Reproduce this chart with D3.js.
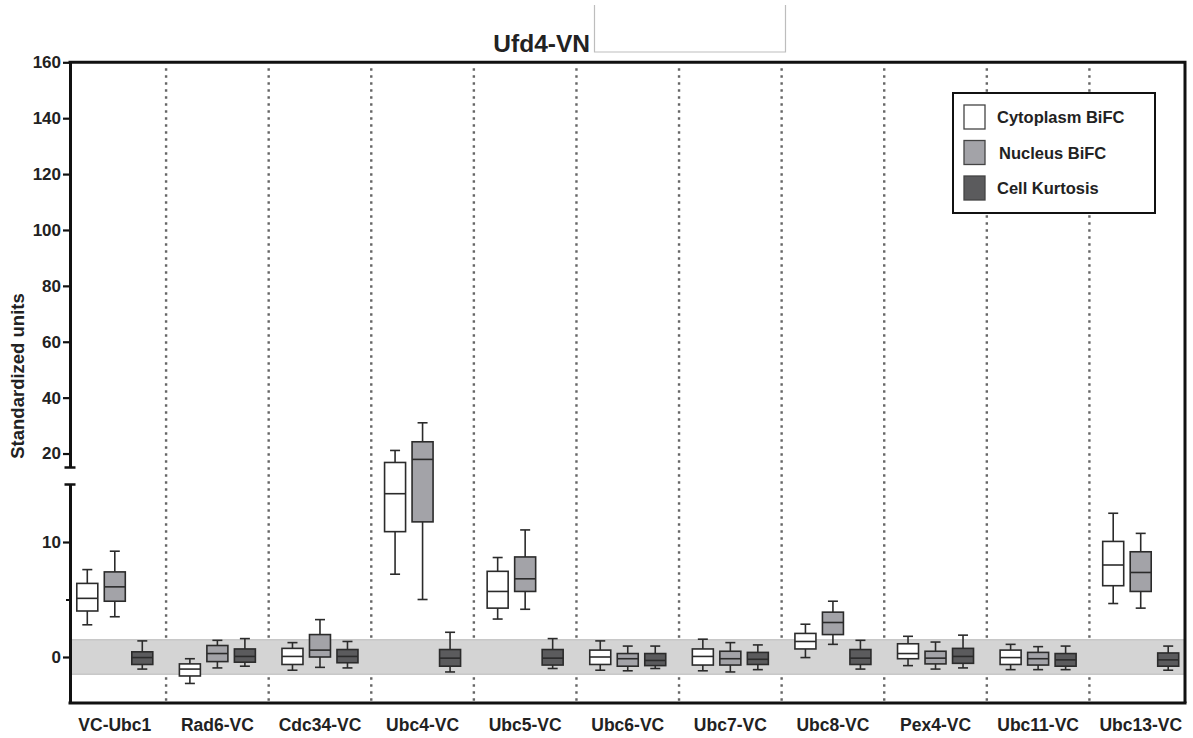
<!DOCTYPE html>
<html>
<head>
<meta charset="utf-8">
<script src="https://cdn.jsdelivr.net/npm/d3@7/dist/d3.min.js"></script>
<style>
  html, body { margin: 0; padding: 0; background: #fff; }
  svg { display: block; font-family: "Liberation Sans", Arial, sans-serif; }
  text { font-weight: bold; fill: #222; }
</style>
</head>
<body>
<svg id="chart" width="1193" height="738"></svg>
<script>
// Categories (E2 constructs) and the three measured series
const categories = ["VC-Ubc1", "Rad6-VC", "Cdc34-VC", "Ubc4-VC", "Ubc5-VC", "Ubc6-VC",
                    "Ubc7-VC", "Ubc8-VC", "Pex4-VC", "Ubc11-VC", "Ubc13-VC"];
const seriesNames = ["Cytoplasm BiFC", "Nucleus BiFC", "Cell Kurtosis"];

// Box statistics per category: [whisker low, Q1, median, Q3, whisker high]
const cytoplasm = [
  [2.8, 4.0, 5.1, 6.4, 7.6],
  [-2.3, -1.65, -1.05, -0.6, -0.15],
  [-1.15, -0.65, 0.05, 0.75, 1.25],
  [7.2, 10.9, 14.2, 16.8, 21.1],
  [3.3, 4.25, 5.7, 7.45, 8.65],
  [-1.15, -0.65, 0.0, 0.6, 1.4],
  [-1.2, -0.7, 0.05, 0.7, 1.55],
  [-0.05, 0.7, 1.35, 2.05, 2.85],
  [-0.75, -0.15, 0.3, 1.15, 1.8],
  [-1.1, -0.65, -0.05, 0.6, 1.1],
  [4.65, 6.2, 8.0, 10.05, 12.5]
];
const nucleus = [
  [3.5, 4.85, 6.1, 7.4, 9.2],
  [-0.95, -0.4, 0.3, 1.0, 1.45],
  [-0.9, 0.0, 0.6, 1.95, 3.25],
  [5.0, 11.75, 17.9, 24.2, 31.0],
  [4.15, 5.7, 6.8, 8.7, 11.05],
  [-1.2, -0.8, -0.15, 0.3, 0.95],
  [-1.3, -0.7, -0.15, 0.5, 1.25],
  [1.1, 1.95, 3.0, 3.9, 4.85],
  [-1.05, -0.6, -0.1, 0.5, 1.3],
  [-1.1, -0.7, -0.15, 0.4, 0.9],
  [4.25, 5.7, 7.35, 9.15, 10.75]
];
const kurtosis = [
  [-1.05, -0.65, -0.05, 0.45, 1.4],
  [-0.8, -0.45, 0.05, 0.7, 1.6],
  [-0.95, -0.5, 0.05, 0.65, 1.35],
  [-1.3, -0.8, -0.1, 0.65, 2.15],
  [-1.0, -0.7, -0.1, 0.65, 1.6],
  [-1.0, -0.75, -0.3, 0.3, 0.95],
  [-1.1, -0.65, -0.2, 0.4, 1.05],
  [-1.05, -0.65, -0.1, 0.65, 1.45],
  [-0.95, -0.55, 0.05, 0.75, 1.9],
  [-1.1, -0.8, -0.25, 0.3, 0.95],
  [-1.15, -0.8, -0.25, 0.35, 0.95]
];
const seriesFill = ["#ffffff", "#a3a3a8", "#5b5b5d"];

// Axis ticks for the two segments of the broken y axis
const upperTicks = [20, 40, 60, 80, 100, 120, 140, 160];
const lowerTicks = [0, 10];
const lowerMinorTicks = [5];
// Shaded reference range around zero
const refBand = [-1.5, 1.5];

const titleText = "Ufd4-VN";
const yTitle = "Standardized units";

// ---- layout ----
const svg = d3.select("#chart");
const axisLeftX = 70, axisRightX = 1185, plotTop = 62.3, plotBottom = 703;

const x = d3.scaleBand().domain(categories).range([63.5, 1192]).padding(0);
const xs = d3.scalePoint().domain(seriesNames).range([-27.5, 27.5]);
const boxW = 21, capW = 10;

const yLow = d3.scaleLinear().domain([-4, 15]).range([plotBottom, 484.5]);
const yHigh = d3.scaleLinear().domain([15, 160]).range([467.5, plotTop]);
const y = v => (v <= 15 ? yLow(v) : yHigh(v));

// ---- title with empty frame ----
svg.append("text")
  .attr("x", 590).attr("y", 52)
  .attr("text-anchor", "end")
  .style("font-size", "24.5px")
  .text(titleText);
svg.append("path")
  .attr("d", "M594.5,5V52H785.5V5")
  .attr("fill", "none")
  .attr("stroke", "#bdbdbd")
  .attr("stroke-width", 1.2);

// ---- dotted group separators ----
svg.append("g").selectAll("line")
  .data(categories.slice(1))
  .join("line")
  .attr("x1", d => x(d)).attr("x2", d => x(d))
  .attr("y1", plotTop + 6).attr("y2", plotBottom)
  .attr("stroke", "#666")
  .attr("stroke-width", 2.4)
  .attr("stroke-dasharray", "2.4 4.6");

// ---- reference band ----
svg.append("rect")
  .attr("x", axisLeftX).attr("width", axisRightX - axisLeftX)
  .attr("y", y(refBand[1])).attr("height", y(refBand[0]) - y(refBand[1]))
  .attr("fill", "#d4d4d4")
  .attr("stroke", "#b9b9b9").attr("stroke-width", 1);

// ---- boxes ----
const allSeries = [cytoplasm, nucleus, kurtosis];
const boxes = [];
allSeries.forEach((arr, si) => {
  arr.forEach((s, ci) => {
    boxes.push({ cat: categories[ci], series: seriesNames[si], fill: seriesFill[si],
                 lo: s[0], q1: s[1], med: s[2], q3: s[3], hi: s[4] });
  });
});

const bg = svg.append("g").selectAll("g")
  .data(boxes)
  .join("g")
  .attr("transform", d => `translate(${x(d.cat) + x.bandwidth() / 2 + xs(d.series)},0)`);

const stroke = "#2b2b2b", sw = 1.6;
bg.append("line").attr("y1", d => y(d.hi)).attr("y2", d => y(d.q3))
  .attr("stroke", stroke).attr("stroke-width", sw);
bg.append("line").attr("y1", d => y(d.q1)).attr("y2", d => y(d.lo))
  .attr("stroke", stroke).attr("stroke-width", sw);
bg.append("line").attr("x1", -capW / 2).attr("x2", capW / 2)
  .attr("y1", d => y(d.hi)).attr("y2", d => y(d.hi))
  .attr("stroke", stroke).attr("stroke-width", sw);
bg.append("line").attr("x1", -capW / 2).attr("x2", capW / 2)
  .attr("y1", d => y(d.lo)).attr("y2", d => y(d.lo))
  .attr("stroke", stroke).attr("stroke-width", sw);
bg.append("rect")
  .attr("x", -boxW / 2).attr("width", boxW)
  .attr("y", d => y(d.q3)).attr("height", d => y(d.q1) - y(d.q3))
  .attr("fill", d => d.fill)
  .attr("stroke", stroke).attr("stroke-width", sw);
bg.append("line").attr("x1", -boxW / 2).attr("x2", boxW / 2)
  .attr("y1", d => y(d.med)).attr("y2", d => y(d.med))
  .attr("stroke", stroke).attr("stroke-width", sw);

// ---- y axis (two segments) ----
const styleAxis = g => {
  g.select(".domain").attr("stroke", "#111").attr("stroke-width", 3);
  g.selectAll(".tick line").attr("stroke", "#111").attr("stroke-width", 2.2);
  g.selectAll(".tick text").style("font-size", "17px").attr("fill", "#222");
};
svg.append("g")
  .attr("transform", `translate(${axisLeftX},0)`)
  .call(d3.axisLeft(yHigh).tickValues(upperTicks).tickSize(7).tickSizeOuter(0).tickPadding(2))
  .call(styleAxis);
svg.append("g")
  .attr("transform", `translate(${axisLeftX},0)`)
  .call(d3.axisLeft(yLow).tickValues(lowerTicks).tickSize(7).tickSizeOuter(0).tickPadding(2))
  .call(styleAxis);
svg.append("g")
  .attr("transform", `translate(${axisLeftX},0)`)
  .call(d3.axisLeft(yLow).tickValues(lowerMinorTicks).tickSize(4).tickFormat("").tickSizeOuter(0))
  .call(g => g.select(".domain").remove())
  .call(g => g.selectAll(".tick line").attr("stroke", "#111").attr("stroke-width", 2));

// break caps on each side of the gap
svg.append("g").selectAll("line")
  .data([yHigh(15), yLow(15)])
  .join("line")
  .attr("x1", axisLeftX - 5.5).attr("x2", axisLeftX + 5.5)
  .attr("y1", d => d).attr("y2", d => d)
  .attr("stroke", "#111").attr("stroke-width", 2.5);

// ---- frame: top and right edges ----
svg.append("path")
  .attr("d", `M${axisLeftX - 1.5},${plotTop}H${axisRightX}V${plotBottom}`)
  .attr("fill", "none").attr("stroke", "#111").attr("stroke-width", 3);

// ---- x axis ----
const xAxisG = svg.append("g")
  .attr("transform", `translate(0,${plotBottom})`)
  .call(d3.axisBottom(x).tickSize(0).tickPadding(15.5));
xAxisG.select(".domain").remove();
xAxisG.selectAll(".tick text").style("font-size", "17.5px").attr("fill", "#222");
svg.append("line")
  .attr("x1", axisLeftX - 1.5).attr("x2", axisRightX + 1.5)
  .attr("y1", plotBottom).attr("y2", plotBottom)
  .attr("stroke", "#111").attr("stroke-width", 3);

// ---- y title ----
svg.append("text")
  .attr("transform", "translate(24,376) rotate(-90)")
  .attr("text-anchor", "middle")
  .style("font-size", "18.5px")
  .text(yTitle);

// ---- legend ----
const lg = svg.append("g").attr("transform", "translate(953,93)");
lg.append("rect")
  .attr("width", 202).attr("height", 120)
  .attr("fill", "#fff").attr("stroke", "#111").attr("stroke-width", 2);
const li = lg.selectAll("g.item")
  .data(seriesNames)
  .join("g").attr("class", "item")
  .attr("transform", (d, i) => `translate(11,${12 + i * 35.5})`);
li.append("rect")
  .attr("width", 21).attr("height", 24)
  .attr("fill", (d, i) => seriesFill[i])
  .attr("stroke", "#444").attr("stroke-width", 1.3);
li.append("text")
  .attr("x", (d, i) => (i === 1 ? 35 : 33)).attr("y", 18)
  .style("font-size", "16.5px")
  .text(d => d);
</script>
</body>
</html>
